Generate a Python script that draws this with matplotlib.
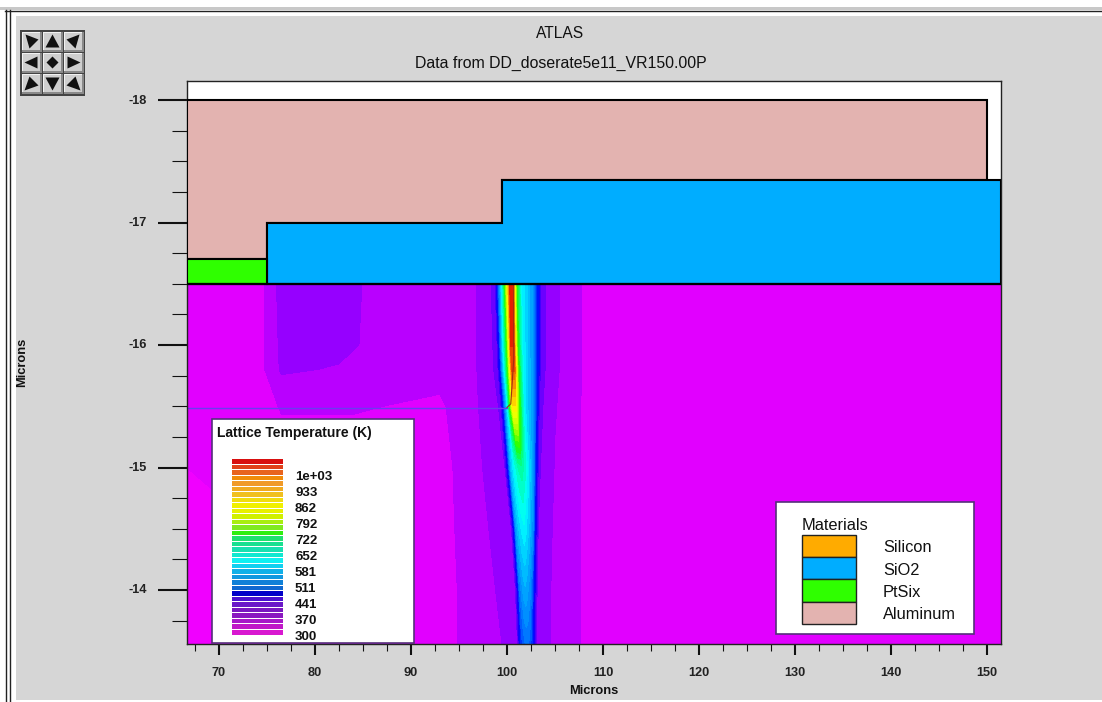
#!/usr/bin/env python3
"""ATLAS lattice temperature plot rebuilt with matplotlib."""
import matplotlib
matplotlib.use("Agg")
import matplotlib.pyplot as plt
from matplotlib.colors import LinearSegmentedColormap
from matplotlib.patches import Polygon, Rectangle
import numpy as np

W, H = 1102, 702
plt.rcParams["font.family"] = ["Liberation Sans", "DejaVu Sans"]

# ----------- data -----------
x_limits = [66.67, 151.46]
y_limits = [-13.56, -18.155]
x_ticks = [70, 80, 90, 100, 110, 120, 130, 140, 150]
y_ticks = [-18, -17, -16, -15, -14]

# material outlines (microns)
aluminum_x = [66.67, 150.0, 150.0, 99.5, 99.5, 75.0, 75.0, 66.67]
aluminum_y = [-18.0, -18.0, -17.35, -17.35, -17.0, -17.0, -16.7, -16.7]
oxide_x = [75.0, 99.5, 99.5, 151.46, 151.46, 75.0]
oxide_y = [-17.0, -17.0, -17.35, -17.35, -16.5, -16.5]
ptsi_x = [66.67, 75.0, 75.0, 66.67]
ptsi_y = [-16.7, -16.7, -16.5, -16.5]
silicon_top = -16.5

# junction line
junction_x = [66.67, 100.0, 100.4, 100.7, 100.7]
junction_y = [-15.49, -15.49, -15.52, -15.88, -16.5]

# lattice temperature (K), one row per depth
depths = [-16.5, -16.0, -15.8, -15.5, -15.0, -14.5, -14.0, -13.56]
x_grid = [
    [66.67, 74.0, 74.5, 76.5, 84.0, 85.5, 93.0, 96.0, 98.7, 98.96, 99.48, 99.8, 100.3, 100.6, 101.0, 101.5, 102.6, 103.23, 103.55, 105.0, 107.6, 108.1, 151.46],
    [66.67, 74.0, 74.5, 76.5, 84.0, 85.5, 93.0, 96.0, 98.9, 99.17, 99.6, 100.0, 100.4, 100.7, 101.1, 101.6, 102.6, 103.23, 103.55, 105.0, 107.6, 108.1, 151.46],
    [66.67, 74.0, 74.5, 76.5, 82.0, 84.0, 93.0, 96.0, 99.0, 99.27, 99.7, 100.1, 100.5, 100.8, 101.2, 101.7, 102.6, 103.23, 103.55, 105.0, 107.6, 108.1, 151.46],
    [66.67, 74.0, 74.5, 76.5, 80.0, 84.0, 93.0, 96.0, 99.3, 99.58, 100.0, 100.3, 100.6, 100.9, 101.3, 101.8, 102.7, 103.13, 103.45, 105.0, 107.6, 108.1, 151.46],
    [66.67, 74.0, 74.5, 76.5, 80.0, 84.0, 93.0, 96.0, 99.8, 100.1, 100.4, 100.8, 101.2, 101.5, 101.8, 102.2, 102.7, 103.02, 103.35, 105.0, 107.6, 108.1, 151.46],
    [66.67, 74.0, 74.5, 76.5, 80.0, 84.0, 93.0, 96.0, 100.45, 100.73, 100.95, 101.2, 101.5, 101.8, 102.0, 102.3, 102.7, 102.92, 103.25, 105.0, 107.6, 108.1, 151.46],
    [66.67, 74.0, 74.5, 76.5, 80.0, 84.0, 93.0, 96.0, 100.85, 101.15, 101.3, 101.5, 101.7, 101.9, 102.1, 102.4, 102.65, 102.81, 103.15, 105.0, 107.6, 108.1, 151.46],
    [66.67, 74.0, 74.5, 76.5, 80.0, 84.0, 93.0, 96.0, 101.05, 101.35, 101.5, 101.7, 101.9, 102.1, 102.25, 102.45, 102.6, 102.71, 103.05, 105.0, 107.6, 108.1, 151.46],
]
temps = [
    [300, 302, 319, 356, 356, 340, 340, 335, 375, 441, 652, 800, 1070, 1070, 790, 652, 560, 441, 378, 350, 330, 305, 300],
    [300, 302, 319, 352, 352, 338, 336, 335, 375, 441, 652, 800, 1070, 1070, 790, 652, 560, 441, 378, 350, 330, 305, 300],
    [300, 302, 319, 350, 345, 335, 330, 335, 375, 441, 640, 800, 1050, 1050, 790, 652, 560, 441, 378, 350, 330, 305, 300],
    [300, 302, 315, 325, 325, 325, 320, 335, 372, 441, 620, 790, 950, 950, 790, 640, 550, 441, 375, 348, 328, 305, 300],
    [300, 301, 312, 312, 312, 312, 316, 332, 370, 441, 590, 660, 700, 710, 690, 640, 560, 441, 372, 345, 326, 305, 300],
    [300, 300, 305, 308, 308, 310, 316, 330, 365, 441, 560, 600, 630, 645, 630, 600, 540, 441, 370, 342, 325, 305, 300],
    [300, 300, 302, 305, 306, 308, 316, 328, 360, 441, 510, 540, 565, 575, 565, 540, 490, 441, 368, 340, 325, 305, 300],
    [300, 300, 302, 305, 306, 308, 316, 328, 355, 441, 475, 495, 510, 515, 510, 495, 465, 441, 365, 340, 325, 305, 300],
]
level_step = 23.3
temp_max = 1100

# colour scale anchors (K -> colour)
cmap_temps = [300, 370, 441, 511, 581, 652, 722, 792, 862, 933, 1000, 1100]
cmap_colors = ["#f000ff", "#8000ff", "#0000ff", "#0070ff", "#00b0ff", "#00ffff",
               "#00ff90", "#20ff00", "#b0ff00", "#ffff00", "#ffa000", "#e00000"]

# temperature legend
legend_title = "Lattice Temperature (K)"
legend_labels = ["1e+03", "933", "862", "792", "722", "652", "581", "511", "441", "370", "300"]
legend_bars = ["#d80f0f", "#e0401a", "#e8641e", "#f08c0a", "#f09a28", "#f0aa20",
               "#f0c020", "#f0dc10", "#f0f000", "#e8f000", "#d0f000", "#a8ee10",
               "#80ea20", "#30ee10", "#20e070", "#18e090", "#18e0b0", "#10e8d0",
               "#10f0f0", "#10d0f0", "#10b0e8", "#1098e0", "#1080d8", "#1068d0",
               "#0000c8", "#4a10d0", "#6a18c8", "#7a18c0", "#8a18c0", "#a818c8",
               "#c018c8", "#d818d0"]

# materials legend
material_names = ["Silicon", "SiO2", "PtSix", "Aluminum"]
material_colors = ["#ffab00", "#00adff", "#2fff00", "#e3b3b0"]


def fx(px):
    return px / W


def fy(py):
    return 1 - py / H


def box(x0, y0, x1, y1, z=5, **kw):
    fig.add_artist(Rectangle((fx(x0), fy(y1)), (x1 - x0) / W, (y1 - y0) / H,
                             transform=fig.transFigure, zorder=z, **kw))


def label(px, py, s, z=8, **kw):
    kw.setdefault("color", "#111111")
    kw.setdefault("va", "center")
    fig.text(fx(px), fy(py), s, zorder=z, **kw)


fig = plt.figure(figsize=(W / 100, H / 100), dpi=100, facecolor="white")

# ----------- window chrome -----------
box(16, 16, 1102, 700, z=0, facecolor="#d6d6d6", edgecolor="none")
box(0, 7, 1102, 10, z=0, facecolor="#c8c8c8", edgecolor="none")
fig.add_artist(plt.Line2D([fx(5), fx(1102)], [fy(10.5), fy(10.5)], color="#222222", lw=1, zorder=1))
fig.add_artist(plt.Line2D([fx(5.5), fx(5.5)], [fy(10), fy(702)], color="#222222", lw=1, zorder=1))
fig.add_artist(plt.Line2D([fx(9.5), fx(9.5)], [fy(10), fy(702)], color="#222222", lw=1, zorder=1))

# pan / zoom buttons
box(20, 30, 85, 96, z=1, facecolor="#444444", edgecolor="none")
glyphs = [
    [(-6, -7), (7, -2), (-2, 7)], [(0, -7), (7, 6), (-7, 6)], [(6, -7), (2, 7), (-7, -2)],
    [(-7, 0), (6, -6), (6, 6)], [(0, -6), (6, 0), (0, 6), (-6, 0)], [(7, 0), (-6, -6), (-6, 6)],
    [(-7, 7), (-2, -7), (7, 2)], [(0, 7), (-7, -6), (7, -6)], [(7, 7), (-7, 2), (2, -7)],
]
for i, g in enumerate(glyphs):
    cx = 31.5 + (i % 3) * 21
    cy = 41.5 + (i // 3) * 21
    box(cx - 10, cy - 10, cx + 10, cy + 10, z=2, facecolor="#8a8a8a", edgecolor="none")
    box(cx - 10, cy - 10, cx + 8.5, cy + 8.5, z=2, facecolor="#f2f2f2", edgecolor="none")
    box(cx - 8.5, cy - 8.5, cx + 8.5, cy + 8.5, z=2, facecolor="#cfcfcf", edgecolor="none")
    fig.add_artist(Polygon([(fx(cx + a), fy(cy + b)) for a, b in g], closed=True,
                           transform=fig.transFigure, facecolor="#111111", edgecolor="none", zorder=3))

# ----------- main axes -----------
ax = fig.add_axes([fx(187), fy(644), (1001 - 187) / W, (644 - 81) / H])
ax.set_facecolor("white")
ax.set_xlim(x_limits)
ax.set_ylim(y_limits)

cmap = LinearSegmentedColormap.from_list(
    "atlas", [((t - 300) / (temp_max - 300), c) for t, c in zip(cmap_temps, cmap_colors)])
X = np.array(x_grid)
Y = np.repeat(np.array(depths)[:, None], X.shape[1], axis=1)
levels = np.arange(300, temp_max + level_step, level_step)
ax.contourf(X, Y, np.array(temps), levels=levels, cmap=cmap, vmin=300, vmax=temp_max, extend="both")

ax.fill(aluminum_x, aluminum_y, facecolor=material_colors[3], edgecolor="black", lw=1.5, zorder=3)
ax.fill(oxide_x, oxide_y, facecolor=material_colors[1], edgecolor="black", lw=1.5, zorder=3)
ax.fill(ptsi_x, ptsi_y, facecolor=material_colors[2], edgecolor="black", lw=1.5, zorder=3)
ax.axhline(silicon_top, color="black", lw=1.6, zorder=4)
ax.plot(junction_x[:2], junction_y[:2], color="#6a3cf0", lw=1, zorder=2)
ax.plot(junction_x[1:], junction_y[1:], color="#a03010", lw=0.8, zorder=2)

ax.set_xticks(x_ticks)
ax.set_yticks(y_ticks)
ax.set_xticks(np.arange(67.5, 151, 2.5), minor=True)
ax.set_yticks(np.arange(-18, -13.6, 0.25), minor=True)
ax.tick_params(axis="x", which="major", length=8, width=1.5, color="#111111", labelbottom=False)
ax.tick_params(axis="x", which="minor", length=5, width=0.8, color="#111111")
ax.tick_params(axis="y", which="major", length=21, width=1.5, color="#111111", labelleft=False)
ax.tick_params(axis="y", which="minor", length=11, width=0.8, color="#111111")
for s in ax.spines.values():
    s.set_color("#222222")
    s.set_linewidth(1)

for v in x_ticks:
    label(219 + (v - 70) * 9.6, 673, str(v), fontsize=9.2, ha="center", fontweight="bold", color="#222222")
for v in y_ticks:
    label(147, 100.5 + (v + 18) * 122.4, str(v), fontsize=9.2, ha="right",
          fontweight="bold", color="#222222")

label(560, 33, "ATLAS", fontsize=11.2, ha="center")
label(561, 63, "Data from DD_doserate5e11_VR150.00P", fontsize=11.4, ha="center")
label(594, 691, "Microns", fontsize=9.3, ha="center", fontweight="bold")
label(22, 362, "Microns", fontsize=9.3, ha="center", rotation=90, fontweight="bold")

# ----------- temperature legend -----------
box(212, 419, 414, 643, facecolor="white", edgecolor="#55307a", lw=1.2)
label(217, 433, legend_title, fontsize=10, fontweight="bold")
bar_h = 176.5 / len(legend_bars)
for i, c in enumerate(legend_bars):
    box(232, 459 + i * bar_h, 283, 459 + i * bar_h + bar_h - 1, z=6, facecolor=c, edgecolor="none")
for i, s in enumerate(legend_labels):
    label(295, 477 + i * 15.95, s, fontsize=9.5, fontweight="bold")

# ----------- materials legend -----------
box(776, 502, 974, 634, facecolor="white", edgecolor="#55307a", lw=1.2)
label(802, 525.5, "Materials", fontsize=11.8)
for i, (name, c) in enumerate(zip(material_names, material_colors)):
    y0 = 535 + i * 22.2
    box(802, y0, 856, y0 + 22.2, z=6, facecolor=c, edgecolor="#222222", lw=1)
    label(883, y0 + 13, name, fontsize=11.8)

fig.savefig("out.png", dpi=100)
plt.close(fig)
print("[wrote] out.png")
